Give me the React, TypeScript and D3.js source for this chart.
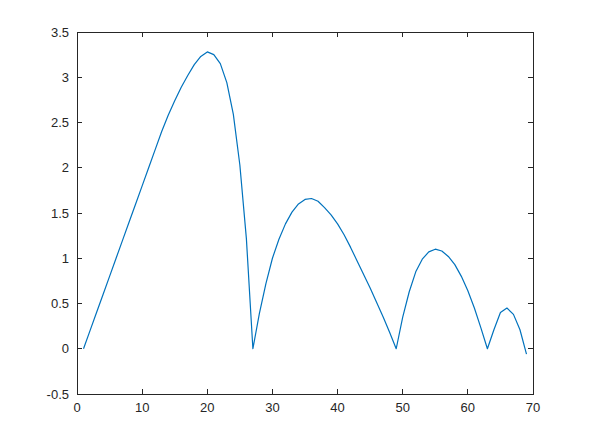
import React from "react";
import * as d3 from "d3";

// values, one per integer x
const xs = d3.range(1, 70);
const ys = [
  0, 0.2, 0.4, 0.6, 0.8, 1.0, 1.2, 1.4, 1.6, 1.8, 2.0, 2.2, 2.4, 2.58, 2.74, 2.89, 3.02, 3.14, 3.23, 3.28,
  3.25, 3.15, 2.94, 2.59, 2.03, 1.22, 0,
  0.39, 0.72, 1.0, 1.21, 1.38, 1.51, 1.6, 1.65, 1.66, 1.63, 1.56, 1.48, 1.38, 1.26, 1.12, 0.97, 0.82, 0.67,
  0.51, 0.35, 0.18, 0,
  0.35, 0.63, 0.85, 0.99, 1.07, 1.1, 1.08, 1.02, 0.93, 0.8, 0.64, 0.45, 0.23, 0,
  0.21, 0.4, 0.45, 0.38, 0.21, -0.06,
];
const xTicks = [0, 10, 20, 30, 40, 50, 60, 70];
const yTicks = [-0.5, 0, 0.5, 1, 1.5, 2, 2.5, 3, 3.5];

const W = 589, H = 442;
const left = 77, right = 533, top = 32, bottom = 394;
const axisColor = "#262626";
const font = "'Liberation Sans', Arial, sans-serif";

export default function App() {
  const x = d3.scaleLinear().domain([0, 70]).range([left, right]);
  const y = d3.scaleLinear().domain([-0.5, 3.5]).range([bottom, top]);
  const line = d3.line<number>().x((d, i) => x(xs[i])).y(d => y(d));
  const tl = 5;

  return (
    <svg width={W} height={H} style={{ position: "absolute", left: 0, top: 0, background: "#fff" }}>
      <rect x={0} y={0} width={W} height={H} fill="#fff" />
      <path d={line(ys) || ""} fill="none" stroke="#0072BD" strokeWidth={1.2} strokeLinejoin="round" />
      <rect x={left} y={top} width={right - left} height={bottom - top} fill="none" stroke={axisColor} strokeWidth={1} shapeRendering="crispEdges" />
      {xTicks.map(t => (
        <g key={"x" + t}>
          <line x1={x(t)} x2={x(t)} y1={bottom} y2={bottom - tl} stroke={axisColor} shapeRendering="crispEdges" />
          <line x1={x(t)} x2={x(t)} y1={top} y2={top + tl} stroke={axisColor} shapeRendering="crispEdges" />
          <text x={x(t)} y={bottom + 18} textAnchor="middle" fontFamily={font} fontSize={13} fill={axisColor}>{t}</text>
        </g>
      ))}
      {yTicks.map(t => (
        <g key={"y" + t}>
          <line x1={left} x2={left + tl} y1={y(t)} y2={y(t)} stroke={axisColor} shapeRendering="crispEdges" />
          <line x1={right} x2={right - tl} y1={y(t)} y2={y(t)} stroke={axisColor} shapeRendering="crispEdges" />
          <text x={left - 8} y={y(t) + 4.5} textAnchor="end" fontFamily={font} fontSize={13} fill={axisColor}>{t}</text>
        </g>
      ))}
    </svg>
  );
}
